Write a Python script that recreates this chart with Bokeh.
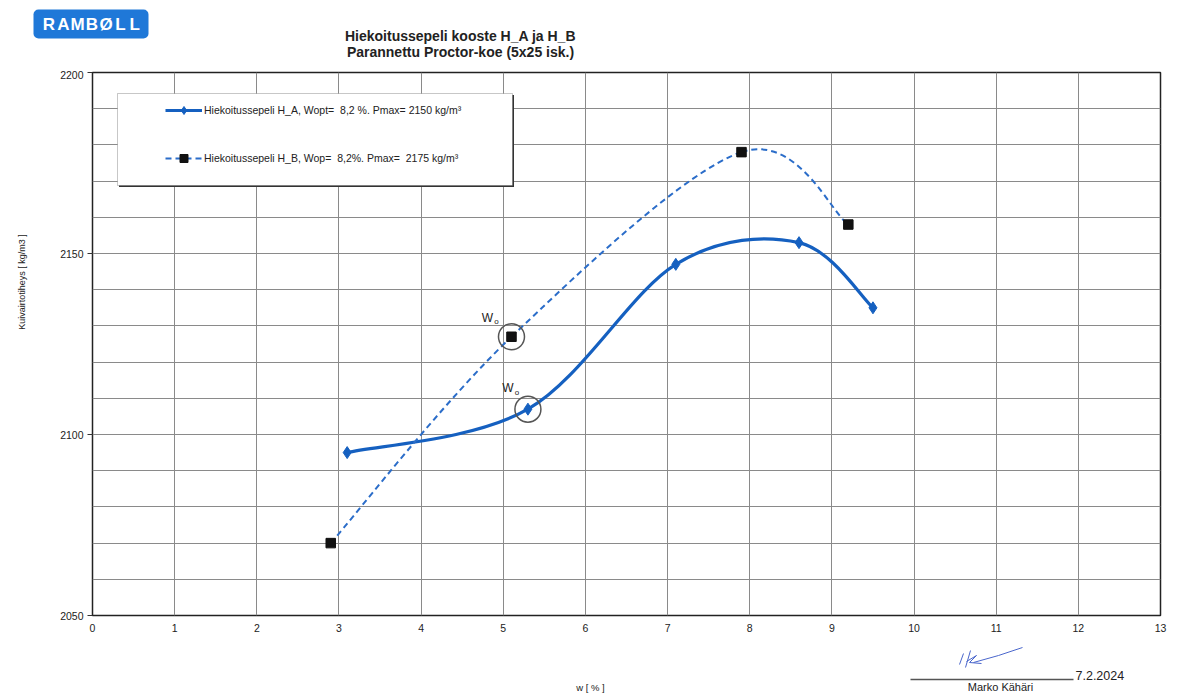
import numpy as np
from bokeh.plotting import figure
from bokeh.layouts import column, row
from bokeh.models import (Range1d, FixedTicker, Legend, LegendItem,
                          BoxAnnotation, ColumnDataSource)
from bokeh.embed import file_html
from bokeh.resources import INLINE
from bokeh.core.properties import value

# ---------------- data ----------------
ha_w = [3.1, 5.3, 7.1, 8.6, 9.5]
ha_rho = [2095, 2107, 2147, 2153, 2135]
hb_w = [2.9, 5.1, 7.9, 9.2]
hb_rho = [2070, 2127, 2178, 2158]
x_ticks = list(range(0, 14))
y_ticks = [2050, 2100, 2150, 2200]
y_grid = list(range(2050, 2201, 10))
wo_a = 1   # index of the circled point in H_A
wo_b = 1   # index of the circled point in H_B

label_a = "Hiekoitussepeli H_A, Wopt=  8,2 %. Pmax= 2150 kg/m³"
label_b = "Hiekoitussepeli H_B, Wop=  8,2%. Pmax=  2175 kg/m³"
title1 = "Hiekoitussepeli kooste H_A ja H_B"
title2 = "Parannettu Proctor-koe (5x25 isk.)"
x_label = "w [ % ]"
y_label = "Kuivairtotiheys [ kg/m3 ]"
logo_letters = list("RAMBØLL")
sign_date = "7.2.2024"
sign_name = "Marko Kähäri"

FONT = "Liberation Sans"
TXT = "#222222"
BLUE_A = "#1560c0"
BLUE_B = "#2b6dc9"

X0, X1, Y0, Y1 = 0, 13, 2050, 2200
FL, FT, FW, FH = 92, 72, 1068, 543   # frame position on the page (px)
PAGE_W = 1170


def smooth_segments(xs, ys):
    """Bezier segments (Catmull-Rom style smoothing) through the points."""
    x = np.asarray(xs, float)
    y = np.asarray(ys, float)
    xp = np.concatenate([[x[0]], x, [x[-1]]])
    yp = np.concatenate([[y[0]], y, [y[-1]]])
    d = dict(x0=[], y0=[], x1=[], y1=[], cx0=[], cy0=[], cx1=[], cy1=[])
    for i in range(len(x) - 1):
        d["x0"].append(xp[i + 1]); d["y0"].append(yp[i + 1])
        d["x1"].append(xp[i + 2]); d["y1"].append(yp[i + 2])
        d["cx0"].append(xp[i + 1] + (xp[i + 2] - xp[i]) / 6)
        d["cy0"].append(yp[i + 1] + (yp[i + 2] - yp[i]) / 6)
        d["cx1"].append(xp[i + 2] - (xp[i + 3] - xp[i + 1]) / 6)
        d["cy1"].append(yp[i + 2] - (yp[i + 3] - yp[i + 1]) / 6)
    return ColumnDataSource(d)


def px_x(px):
    return X0 + (px - FL) / FW * (X1 - X0)


def px_y(py):
    return Y1 - (py - FT) / FH * (Y1 - Y0)


def blank(w, h, x0, y0):
    """Figure whose frame fills the canvas, in page pixel coordinates."""
    f = figure(width=w, height=h, output_backend="svg", toolbar_location=None,
               x_range=Range1d(x0, x0 + w), y_range=Range1d(y0 + h, y0),
               x_axis_type=None, y_axis_type=None, min_border=0)
    f.grid.visible = False
    f.outline_line_color = None
    f.background_fill_color = "white"
    f.border_fill_color = "white"
    return f


def ptext(f, x, y, txt, size, style="normal", color=TXT, angle=0, align="center"):
    f.text([x], [y], text=[txt], text_font=value(FONT), text_font_size=size,
           text_font_style=style, text_color=color, angle=angle,
           text_align=align, text_baseline="middle")


# ---------------- top strip: logo and title ----------------
TOP_H = 70
top = blank(PAGE_W, TOP_H, 0, 0)
top.add_layout(BoxAnnotation(left=33, right=148, top=9, bottom=38,
                             fill_color="#1f78d8", fill_alpha=1,
                             line_color=None, border_radius=5,
                             level="underlay"))
for i, ch in enumerate(logo_letters):
    ptext(top, 48.5 + i * 14.3, 24, ch, "17px", "bold", color="white")
ptext(top, 460, 35, title1, "14px", "bold")
ptext(top, 460, 51, title2, "14px", "bold")

# ---------------- main chart ----------------
MAIN_W = PAGE_W - 50
MAIN_H = 2 + FH + 25
p = figure(width=MAIN_W, height=MAIN_H, output_backend="svg",
           toolbar_location=None,
           x_range=Range1d(X0, X1), y_range=Range1d(Y0, Y1),
           min_border_left=FL - 50, min_border_right=MAIN_W - (FL - 50) - FW,
           min_border_top=2, min_border_bottom=25)
p.background_fill_color = "white"
p.border_fill_color = "white"
p.outline_line_color = "#222222"
p.outline_line_width = 1.5

p.xaxis.ticker = FixedTicker(ticks=x_ticks)
p.yaxis.ticker = FixedTicker(ticks=y_ticks)
for ax in (p.xaxis[0], p.yaxis[0]):
    ax.axis_line_color = None
    ax.minor_tick_line_color = None
    ax.major_label_text_font = FONT
    ax.major_label_text_color = TXT
    ax.major_tick_line_color = "#333333"
p.xaxis.major_label_text_font_size = "10.5px"
p.yaxis.major_label_text_font_size = "10.5px"
p.xaxis.major_tick_out = 0
p.xaxis.major_tick_in = 0
p.xaxis.major_label_standoff = 8
p.yaxis.major_tick_out = 5
p.yaxis.major_tick_in = 0
p.yaxis.major_label_standoff = 4

p.xgrid.ticker = FixedTicker(ticks=x_ticks)
p.ygrid.ticker = FixedTicker(ticks=y_grid)
for g in (p.xgrid[0], p.ygrid[0]):
    g.grid_line_color = "#8a8a8a"
    g.grid_line_width = 1

src_a = smooth_segments(ha_w, ha_rho)
src_b = smooth_segments(hb_w, hb_rho)
r_line_a = p.bezier(x0="x0", y0="y0", x1="x1", y1="y1", cx0="cx0", cy0="cy0",
                    cx1="cx1", cy1="cy1", source=src_a, line_color=BLUE_A,
                    line_width=3.2)
r_line_b = p.bezier(x0="x0", y0="y0", x1="x1", y1="y1", cx0="cx0", cy0="cy0",
                    cx1="cx1", cy1="cy1", source=src_b, line_color=BLUE_B,
                    line_width=2, line_dash="6 4")
r_pts_a = p.scatter(ha_w, ha_rho, marker="diamond", size=12, fill_color=BLUE_A,
                    line_color=BLUE_A)
r_pts_b = p.scatter(hb_w, hb_rho, marker="square", size=9.5,
                    fill_color="#111111", line_color="#111111")

# Wo circles and labels
wo_x = [hb_w[wo_b], ha_w[wo_a]]
wo_y = [hb_rho[wo_b], ha_rho[wo_a]]
p.scatter(wo_x, wo_y, marker="circle", size=26, fill_color=None,
          line_color="#555555", line_width=1.5)
for (wx, wy, dx, dy) in [(hb_w[wo_b], hb_rho[wo_b], -24, -19),
                         (ha_w[wo_a], ha_rho[wo_a], -20, -21)]:
    p.text([wx], [wy], text=["W"], x_offset=dx, y_offset=dy,
           text_font=value(FONT), text_font_size="12px", text_color=TXT,
           text_align="center", text_baseline="middle")
    p.text([wx], [wy], text=["o"], x_offset=dx + 9, y_offset=dy + 4,
           text_font=value(FONT), text_font_size="8px", text_color=TXT,
           text_align="center", text_baseline="middle")

# legend box (with shadow) + legend
sx, sy = 1.5 / FW * (X1 - X0), 1.5 / FH * (Y1 - Y0)
p.add_layout(BoxAnnotation(left=px_x(117) + sx, right=px_x(512) + sx,
                           top=px_y(93) - sy, bottom=px_y(185) - sy,
                           fill_color="#333333", fill_alpha=1, line_color=None))
p.add_layout(BoxAnnotation(left=px_x(117), right=px_x(512), top=px_y(93),
                           bottom=px_y(185), fill_color="white", fill_alpha=1,
                           line_color="#444444", line_width=1))
legend = Legend(items=[LegendItem(label=label_a, renderers=[r_line_a, r_pts_a]),
                       LegendItem(label=label_b, renderers=[r_line_b, r_pts_b])],
                location=(165 - FL, 447), padding=5, spacing=28, label_height=20,
                glyph_height=20, glyph_width=37, label_standoff=2,
                background_fill_alpha=0, border_line_color=None,
                label_text_font=FONT, label_text_font_size="10.5px",
                label_text_color=TXT)
p.add_layout(legend)

# ---------------- left strip: y label ----------------
left = blank(50, MAIN_H, 0, TOP_H)
ptext(left, 21, 290, y_label, "9px", angle=np.pi / 2)

# ---------------- bottom strip: x label and signature ----------------
BOT_Y = TOP_H + MAIN_H
bottom = blank(PAGE_W, 694 - BOT_Y, 0, BOT_Y)
ptext(bottom, 590, 687, x_label, "9.5px")
bottom.segment(x0=[910], y0=[679], x1=[1073], y1=[679], line_color="#555555",
               line_width=1.5)
bottom.multi_line(xs=[[959, 963], [965, 970], [966, 976, 969, 981],
                      [973, 998, 1022]],
                  ys=[[664, 653], [667, 650], [661, 655, 662, 663],
                      [662, 655, 647]],
                  line_color="#4a66cc", line_width=1)
ptext(bottom, 1075, 675, sign_date, "12.5px", align="left")
ptext(bottom, 1000, 686, sign_name, "11px")

layout = column(top, row(left, p, spacing=0), bottom, spacing=0)
open("out.html", "w").write(file_html(layout, INLINE))
